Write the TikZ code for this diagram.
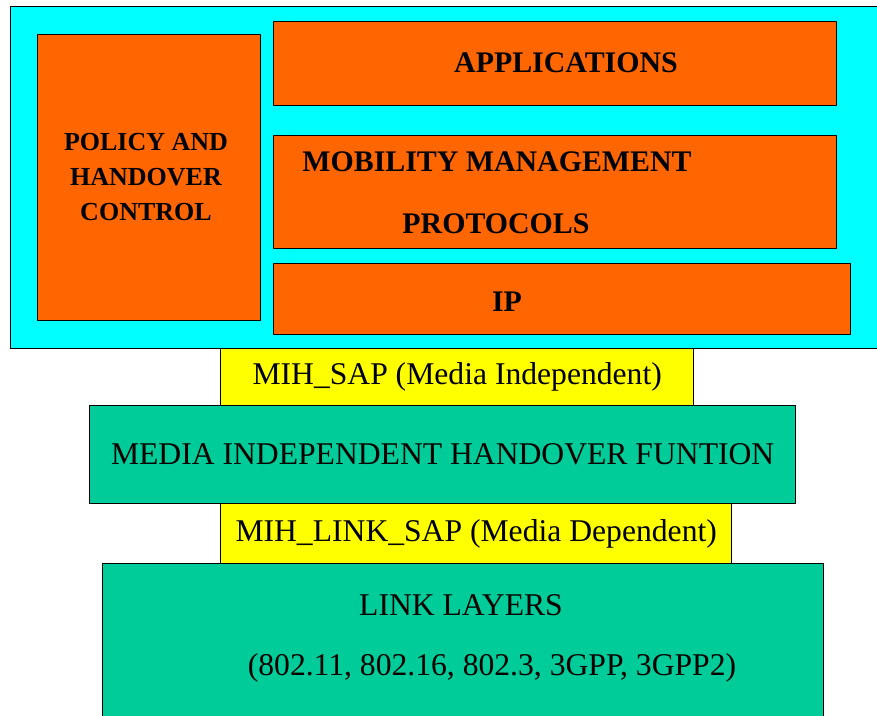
\documentclass[tikz,border=0pt]{standalone}
\usepackage{fontspec}
\setmainfont{Liberation Serif}
\usepackage{xcolor}
\usepackage{tikz}
\usetikzlibrary{positioning}

\definecolor{stackcyan}{RGB}{0,255,255}
\definecolor{upperorange}{RGB}{255,102,0}
\definecolor{mihgreen}{RGB}{0,204,153}
\definecolor{sapyellow}{RGB}{255,255,0}

\begin{document}
\begin{tikzpicture}[
    box/.style={draw, line width=0.8pt, inner sep=0pt, anchor=north west},
    upperbox/.style={box, fill=upperorange},
    sapbox/.style={draw, line width=0.8pt, fill=sapyellow, inner sep=0pt, anchor=north west,
        font=\fontsize{18}{21}\selectfont},
    mihbox/.style={draw, line width=0.8pt, fill=mihgreen, inner sep=0pt, anchor=north west},
    upperlbl/.style={font=\fontsize{17}{20}\selectfont\bfseries},
    lowerlbl/.style={font=\fontsize{18}{21}\selectfont},
]
\useasboundingbox (0,0) rectangle (17.54,-14.32);

% Upper layers (cyan frame)
\node[box, fill=stackcyan, minimum width=17.6cm, minimum height=6.84cm] (stack) at (0.2,-0.12) {};

\node[upperbox, minimum width=4.46cm, minimum height=5.72cm] (policy) at (0.74,-0.68) {};
\node[upperbox, minimum width=11.26cm, minimum height=1.68cm] (apps) at (5.46,-0.42) {};
\node[upperbox, minimum width=11.26cm, minimum height=2.26cm] (mobility) at (5.46,-2.70) {};
\node[upperbox, minimum width=11.54cm, minimum height=1.42cm] (ip) at (5.46,-5.26) {};

% Labels of the upper layers
\node[font=\fontsize{14.8}{19.9}\selectfont\bfseries, align=center] (policylbl) at (2.92,-3.54)
    {POLICY AND\\HANDOVER\\CONTROL};
\node[upperlbl] (appslbl) at (11.32,-1.26) {APPLICATIONS};
\node[upperlbl] (mobilitylbl) at (9.94,-3.24) {MOBILITY MANAGEMENT};
\node[upperlbl] (protolbl) at (9.92,-4.48) {PROTOCOLS};
\node[upperlbl] (iplbl) at (10.14,-6.04) {IP};

% MIH function with its service access points
\node[sapbox, minimum width=9.46cm, minimum height=1.14cm] (mihsap) at (4.40,-6.96)
    {MIH\_SAP (Media Independent)};
\node[mihbox, minimum width=14.12cm, minimum height=1.96cm, font=\fontsize{18}{21}\selectfont] (mihf) at (1.78,-8.10)
    {MEDIA INDEPENDENT HANDOVER FUNTION};
\node[sapbox, minimum width=10.22cm, minimum height=1.20cm] (linksap) at (4.40,-10.06)
    {MIH\_LINK\_SAP (Media Dependent)};

% Link layers
\node[mihbox, minimum width=14.42cm, minimum height=3.3cm] (link) at (2.04,-11.26) {};
\node[lowerlbl] (linklbl) at (9.22,-12.10) {LINK LAYERS};
\node[lowerlbl] (techlbl) at (9.84,-13.36) {(802.11, 802.16, 802.3, 3GPP, 3GPP2)};

\end{tikzpicture}
\end{document}
